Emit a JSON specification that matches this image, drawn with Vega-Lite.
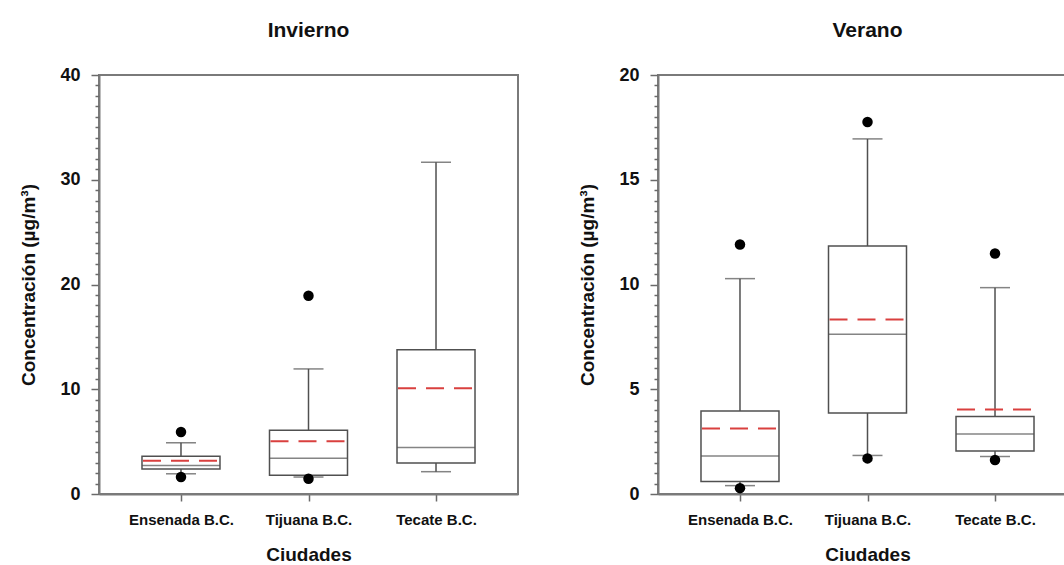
{
  "$schema": "https://vega.github.io/schema/vega-lite/v6.json",
  "background": "white",
  "padding": {"left": 18, "top": 19, "right": 0, "bottom": 0},
  "spacing": 58,
  "datasets": {
    "stats": [
      {"season": "Invierno", "city": "Ensenada B.C.", "lo": 1.93, "q1": 2.38, "median": 2.72, "q3": 3.61, "hi": 4.89, "mean": 3.17},
      {"season": "Invierno", "city": "Tijuana B.C.", "lo": 1.62, "q1": 1.79, "median": 3.41, "q3": 6.09, "hi": 11.94, "mean": 5.03},
      {"season": "Invierno", "city": "Tecate B.C.", "lo": 2.13, "q1": 2.96, "median": 4.44, "q3": 13.77, "hi": 31.67, "mean": 10.09},
      {"season": "Verano", "city": "Ensenada B.C.", "lo": 0.4, "q1": 0.6, "median": 1.81, "q3": 3.96, "hi": 10.28, "mean": 3.13},
      {"season": "Verano", "city": "Tijuana B.C.", "lo": 1.84, "q1": 3.87, "median": 7.62, "q3": 11.84, "hi": 16.95, "mean": 8.33},
      {"season": "Verano", "city": "Tecate B.C.", "lo": 1.79, "q1": 2.05, "median": 2.86, "q3": 3.7, "hi": 9.85, "mean": 4.03}
    ],
    "outliers": [
      {"season": "Invierno", "city": "Ensenada B.C.", "value": 5.92},
      {"season": "Invierno", "city": "Ensenada B.C.", "value": 1.62},
      {"season": "Invierno", "city": "Tijuana B.C.", "value": 18.93},
      {"season": "Invierno", "city": "Tijuana B.C.", "value": 1.45},
      {"season": "Verano", "city": "Ensenada B.C.", "value": 11.91},
      {"season": "Verano", "city": "Ensenada B.C.", "value": 0.28},
      {"season": "Verano", "city": "Tijuana B.C.", "value": 17.76},
      {"season": "Verano", "city": "Tijuana B.C.", "value": 1.7},
      {"season": "Verano", "city": "Tecate B.C.", "value": 11.48},
      {"season": "Verano", "city": "Tecate B.C.", "value": 1.62}
    ]
  },
  "hconcat": [
    {
      "width": 419,
      "height": 419,
      "title": {"text": "Invierno"},
      "resolve": {"axis": {"y": "independent"}},
      "encoding": {
        "x": {
          "field": "city",
          "type": "nominal",
          "sort": ["Ensenada B.C.", "Tijuana B.C.", "Tecate B.C."],
          "scale": {"type": "point", "padding": 0.643},
          "title": "Ciudades"
        }
      },
      "layer": [
        {
          "data": {"name": "stats"},
          "transform": [{"filter": "datum.season === 'Invierno'"}],
          "mark": {"type": "rule", "color": "#505050", "strokeWidth": 1.5},
          "encoding": {
            "y": {"field": "lo", "type": "quantitative", "title": "Concentración (µg/m³)", "scale": {"domain": [0, 40], "nice": false},
                  "axis": {"values": [0, 10, 20, 30, 40], "tickSize": 8}},
            "y2": {"field": "hi"}
          }
        },
        {
          "data": {"name": "stats"},
          "transform": [{"filter": "datum.season === 'Invierno'"}],
          "mark": {"type": "tick", "color": "#505050", "size": 30, "thickness": 1.5},
          "encoding": {
            "y": {"field": "lo", "type": "quantitative", "title": "Concentración (µg/m³)",
                  "axis": {"orient": "left", "values": [1,2,3,4,5,6,7,8,9,11,12,13,14,15,16,17,18,19,21,22,23,24,25,26,27,28,29,31,32,33,34,35,36,37,38,39], "tickSize": 4, "labels": false, "domain": false, "title": null}}
          }
        },
        {
          "data": {"name": "stats"},
          "transform": [{"filter": "datum.season === 'Invierno'"}],
          "mark": {"type": "tick", "color": "#505050", "size": 30, "thickness": 1.5},
          "encoding": {"y": {"field": "hi", "type": "quantitative", "axis": null}}
        },
        {
          "data": {"name": "stats"},
          "transform": [{"filter": "datum.season === 'Invierno'"}],
          "mark": {"type": "bar", "size": 78, "fill": "white", "stroke": "#505050", "strokeWidth": 1.5},
          "encoding": {"y": {"field": "q1", "type": "quantitative", "axis": null}, "y2": {"field": "q3"}}
        },
        {
          "data": {"name": "stats"},
          "transform": [{"filter": "datum.season === 'Invierno'"}],
          "mark": {"type": "tick", "color": "#505050", "size": 78, "thickness": 1.5},
          "encoding": {"y": {"field": "median", "type": "quantitative", "axis": null}}
        },
        {
          "data": {"name": "stats"},
          "transform": [{"filter": "datum.season === 'Invierno'"}],
          "mark": {"type": "rule", "color": "#d9403f", "strokeWidth": 2, "strokeDash": [18, 10], "xOffset": -38, "x2Offset": 38},
          "encoding": {"x2": {"field": "city"}, "y": {"field": "mean", "type": "quantitative", "axis": null}}
        },
        {
          "data": {"name": "outliers"},
          "transform": [{"filter": "datum.season === 'Invierno'"}],
          "mark": {"type": "circle", "color": "black", "opacity": 1, "size": 110},
          "encoding": {"y": {"field": "value", "type": "quantitative", "axis": null}}
        }
      ]
    },
    {
      "width": 419,
      "height": 419,
      "title": {"text": "Verano"},
      "resolve": {"axis": {"y": "independent"}},
      "encoding": {
        "x": {
          "field": "city",
          "type": "nominal",
          "sort": ["Ensenada B.C.", "Tijuana B.C.", "Tecate B.C."],
          "scale": {"type": "point", "padding": 0.643},
          "title": "Ciudades"
        }
      },
      "layer": [
        {
          "data": {"name": "stats"},
          "transform": [{"filter": "datum.season === 'Verano'"}],
          "mark": {"type": "rule", "color": "#505050", "strokeWidth": 1.5},
          "encoding": {
            "y": {"field": "lo", "type": "quantitative", "title": "Concentración (µg/m³)", "scale": {"domain": [0, 20], "nice": false},
                  "axis": {"values": [0, 5, 10, 15, 20], "tickSize": 8}},
            "y2": {"field": "hi"}
          }
        },
        {
          "data": {"name": "stats"},
          "transform": [{"filter": "datum.season === 'Verano'"}],
          "mark": {"type": "tick", "color": "#505050", "size": 30, "thickness": 1.5},
          "encoding": {
            "y": {"field": "lo", "type": "quantitative", "title": "Concentración (µg/m³)",
                  "axis": {"orient": "left", "values": [0.5,1,1.5,2,2.5,3,3.5,4,4.5,5.5,6,6.5,7,7.5,8,8.5,9,9.5,10.5,11,11.5,12,12.5,13,13.5,14,14.5,15.5,16,16.5,17,17.5,18,18.5,19,19.5], "tickSize": 4, "labels": false, "domain": false, "title": null}}
          }
        },
        {
          "data": {"name": "stats"},
          "transform": [{"filter": "datum.season === 'Verano'"}],
          "mark": {"type": "tick", "color": "#505050", "size": 30, "thickness": 1.5},
          "encoding": {"y": {"field": "hi", "type": "quantitative", "axis": null}}
        },
        {
          "data": {"name": "stats"},
          "transform": [{"filter": "datum.season === 'Verano'"}],
          "mark": {"type": "bar", "size": 78, "fill": "white", "stroke": "#505050", "strokeWidth": 1.5},
          "encoding": {"y": {"field": "q1", "type": "quantitative", "axis": null}, "y2": {"field": "q3"}}
        },
        {
          "data": {"name": "stats"},
          "transform": [{"filter": "datum.season === 'Verano'"}],
          "mark": {"type": "tick", "color": "#505050", "size": 78, "thickness": 1.5},
          "encoding": {"y": {"field": "median", "type": "quantitative", "axis": null}}
        },
        {
          "data": {"name": "stats"},
          "transform": [{"filter": "datum.season === 'Verano'"}],
          "mark": {"type": "rule", "color": "#d9403f", "strokeWidth": 2, "strokeDash": [18, 10], "xOffset": -38, "x2Offset": 38},
          "encoding": {"x2": {"field": "city"}, "y": {"field": "mean", "type": "quantitative", "axis": null}}
        },
        {
          "data": {"name": "outliers"},
          "transform": [{"filter": "datum.season === 'Verano'"}],
          "mark": {"type": "circle", "color": "black", "opacity": 1, "size": 110},
          "encoding": {"y": {"field": "value", "type": "quantitative", "axis": null}}
        }
      ]
    }
  ],
  "config": {
    "font": "Liberation Sans",
    "view": {"stroke": "#7a7a7a", "strokeWidth": 2},
    "title": {"fontSize": 21, "fontWeight": "bold", "color": "#111111", "anchor": "middle", "offset": 25},
    "axis": {
      "grid": false,
      "domainColor": "#7a7a7a",
      "domainWidth": 2,
      "tickColor": "#6a6a6a",
      "tickWidth": 1.5,
      "labelColor": "#111111",
      "titleColor": "#111111",
      "labelFont": "Liberation Sans",
      "titleFont": "Liberation Sans",
      "labelFontWeight": "bold",
      "titleFontWeight": "bold"
    },
    "axisY": {"labelFontSize": 18, "labelPadding": 11, "titleFontSize": 19, "titlePadding": 21},
    "axisX": {"labelFontSize": 15, "labelPadding": 11, "tickSize": 7, "labelAngle": 0, "titleFontSize": 19, "titlePadding": 18}
  }
}
